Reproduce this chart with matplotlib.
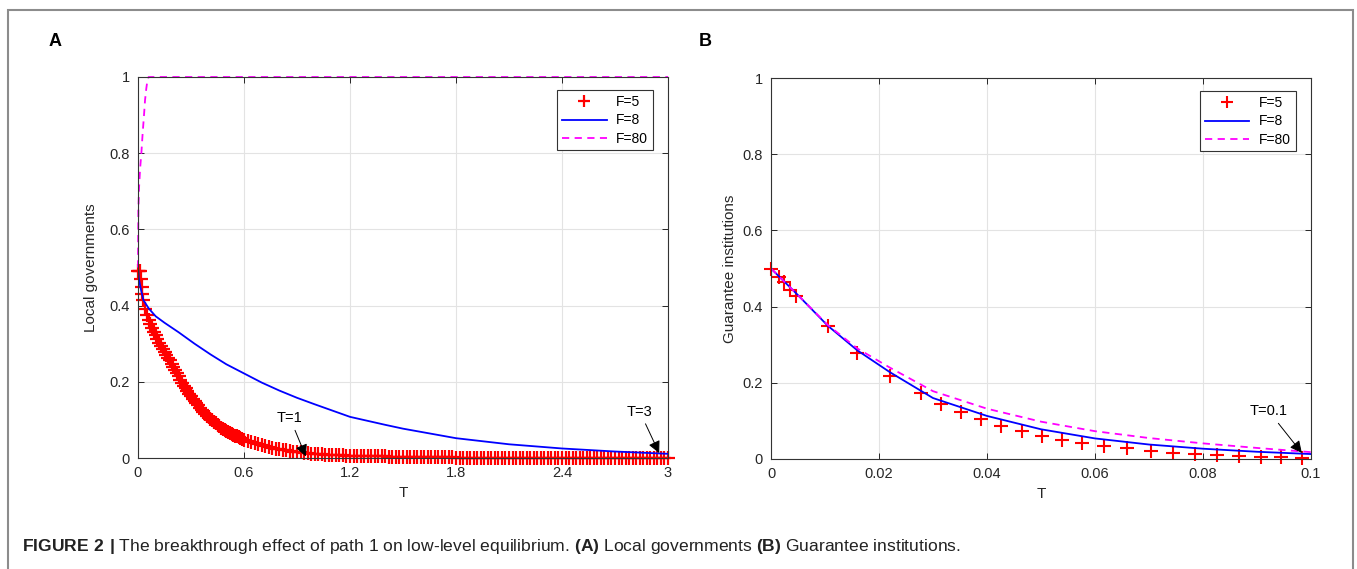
import numpy as np
import matplotlib
matplotlib.use("Agg")
import matplotlib.pyplot as plt
from matplotlib.patches import Rectangle

plt.rcParams['font.family'] = ['Liberation Sans', 'DejaVu Sans']
plt.rcParams['mathtext.fontset'] = 'custom'
plt.rcParams['mathtext.rm'] = 'Liberation Sans'
plt.rcParams['mathtext.bf'] = 'Liberation Sans:bold'

# ---- panel A : local governments ----
# sample times of the F=5 markers: fine steps early on, coarser later
t_a_red = np.round(np.r_[[0, 0.005, 0.01, 0.015, 0.02, 0.025],
                         np.arange(0.03, 0.595, 0.01), np.arange(0.6, 3.001, 0.02)], 3)
y_a_red = [0.49, 0.49, 0.49, 0.47, 0.45, 0.43,
           0.415, 0.39, 0.375, 0.362, 0.351, 0.34, 0.331,
           0.322, 0.312, 0.303, 0.294, 0.286, 0.278, 0.27, 0.263, 0.256, 0.247,
           0.238, 0.23, 0.222, 0.214, 0.206, 0.198, 0.19, 0.183, 0.176, 0.169,
           0.163, 0.156, 0.15, 0.144, 0.138, 0.132, 0.126, 0.121, 0.116, 0.111,
           0.107, 0.103, 0.099, 0.095, 0.091, 0.087, 0.084, 0.080, 0.077, 0.074,
           0.071, 0.068, 0.066, 0.063, 0.061, 0.059, 0.057, 0.054, 0.052, 0.050,
           # 0.60 .. 1.00 step 0.02
           0.048, 0.045, 0.042, 0.039, 0.036, 0.034, 0.031, 0.029, 0.026, 0.024,
           0.023, 0.021, 0.020, 0.019, 0.017, 0.016, 0.015, 0.013, 0.012, 0.011,
           0.011,
           # 1.02 .. 3.00 step 0.02
           0.010, 0.010, 0.009, 0.009, 0.008, 0.008, 0.007, 0.007, 0.006, 0.006,
           0.005, 0.005, 0.005, 0.005, 0.005, 0.004, 0.004, 0.004, 0.004, 0.004,
           0.003, 0.003, 0.003, 0.003, 0.003, 0.003, 0.003, 0.003, 0.002, 0.002,
           0.002, 0.002, 0.002, 0.002, 0.002, 0.002, 0.002, 0.002, 0.002, 0.001,
           0.001, 0.001, 0.001, 0.001, 0.001, 0.001, 0.001, 0.001, 0.001, 0.001,
           0.001, 0.001, 0.001, 0.001, 0.001, 0.0, 0.0, 0.0, 0.0, 0.0,
           0.0, 0.0, 0.0, 0.0, 0.0, 0.0, 0.0, 0.0, 0.0, 0.0,
           0.0, 0.0, 0.0, 0.0, 0.0, 0.0, 0.0, 0.0, 0.0, 0.0,
           0.0, 0.0, 0.0, 0.0, 0.0, 0.0, 0.0, 0.0, 0.0, 0.0,
           0.0, 0.0, 0.0, 0.0, 0.0, 0.0, 0.0, 0.0, 0.0, 0.0]

t_a_blue = [0, 0.005, 0.013, 0.03, 0.06, 0.1, 0.15, 0.23, 0.32, 0.41, 0.5,
            0.6, 0.7, 0.8, 0.9, 1.0, 1.2, 1.4, 1.5, 1.8, 2.1, 2.4, 2.7, 3.0]
y_a_blue = [0.50, 0.47, 0.45, 0.415, 0.393, 0.372, 0.355, 0.33, 0.30, 0.272, 0.246,
            0.222, 0.198, 0.177, 0.158, 0.141, 0.108, 0.087, 0.077, 0.052, 0.036,
            0.025, 0.017, 0.011]

t_a_mag = [0, 0.001, 0.002, 0.006, 0.012, 0.019, 0.026, 0.034, 0.04, 0.047, 0.053, 0.06, 3.0]
y_a_mag = [0.5, 0.58, 0.65, 0.71, 0.76, 0.8, 0.85, 0.9, 0.94, 0.97, 0.99, 1.0, 1.0]

# ---- panel B : guarantee institutions ----
t_b_red = [0.0, 0.0014, 0.0024, 0.0035, 0.0047, 0.0105, 0.016, 0.022, 0.0277,
           0.0314, 0.0352, 0.0388, 0.0426, 0.0464, 0.0502, 0.0538, 0.0575,
           0.0617, 0.0659, 0.0703, 0.0744, 0.0786, 0.0826, 0.0867, 0.0907,
           0.0945, 0.0983]
y_b_red = [0.498, 0.478, 0.465, 0.444, 0.428, 0.348, 0.279, 0.219, 0.173,
           0.145, 0.124, 0.106, 0.087, 0.074, 0.061, 0.051, 0.042,
           0.035, 0.029, 0.022, 0.017, 0.014, 0.010, 0.008, 0.006,
           0.004, 0.003]

t_b = [0, 0.005, 0.0105, 0.016, 0.022, 0.03, 0.04, 0.05, 0.06, 0.07, 0.08, 0.09, 0.1]
y_b_blue = [0.5, 0.43, 0.35, 0.285, 0.228, 0.16, 0.113, 0.078, 0.054, 0.038, 0.027, 0.019, 0.013]
y_b_mag = [0.5, 0.43, 0.352, 0.29, 0.24, 0.178, 0.132, 0.098, 0.073, 0.055, 0.041, 0.029, 0.018]

labels = ['F=5', 'F=8', 'F=80']

W, H = 1357, 569
fig = plt.figure(figsize=(W / 100, H / 100), dpi=100)
axA = fig.add_axes([138 / W, 1 - 458 / H, 530 / W, 381 / H])
axB = fig.add_axes([771 / W, 1 - 459 / H, 540 / W, 381 / H])

txt = '#262626'


def style(ax, xlim, xticks, xticklabels):
    ax.set_xlim(*xlim)
    ax.set_ylim(0, 1)
    ax.set_xticks(xticks)
    ax.set_xticklabels(xticklabels)
    ax.set_yticks([0, 0.2, 0.4, 0.6, 0.8, 1])
    ax.set_yticklabels(['0', '0.2', '0.4', '0.6', '0.8', '1'])
    ax.grid(True, color='#e3e3e3', lw=0.8)
    ax.set_axisbelow(True)
    ax.tick_params(direction='in', length=4, width=0.7, top=True, right=True,
                   labelsize=10.5, colors=txt, pad=6)
    for s in ax.spines.values():
        s.set_color('#333333')
        s.set_linewidth(0.8)
    ax.set_xlabel('T', fontsize=11, color=txt, labelpad=4)


style(axA, (0, 3), [0, 0.6, 1.2, 1.8, 2.4, 3], ['0', '0.6', '1.2', '1.8', '2.4', '3'])
style(axB, (0, 0.1), [0, 0.02, 0.04, 0.06, 0.08, 0.1], ['0', '0.02', '0.04', '0.06', '0.08', '0.1'])
axA.set_ylabel('Local governments', fontsize=11, color=txt, labelpad=8)
axB.set_ylabel('Guarantee institutions', fontsize=11, color=txt, labelpad=4)

axA.plot(t_a_red, y_a_red, '+', color='#ff0000', ms=10, mew=1.6, clip_on=False, label=labels[0])
axA.plot(t_a_blue, y_a_blue, '-', color='#0000ff', lw=1.3, label=labels[1])
axA.plot(t_a_mag, y_a_mag, '--', color='#ff00ff', lw=1.3, dashes=(4, 3), clip_on=False, label=labels[2])

axB.plot(t_b_red, y_b_red, '+', color='#ff0000', ms=10, mew=1.5, clip_on=False, label=labels[0])
axB.plot(t_b, y_b_blue, '-', color='#0000ff', lw=1.3, label=labels[1])
axB.plot(t_b, y_b_mag, '--', color='#ff00ff', lw=1.3, dashes=(4, 3), label=labels[2])

for ax in (axA, axB):
    leg = ax.legend(loc='upper right', bbox_to_anchor=(0.972, 0.965), fontsize=10,
                    fancybox=False, framealpha=1, edgecolor='#333333',
                    handlelength=3.2, borderpad=0.35, labelspacing=0.3,
                    handletextpad=0.7, borderaxespad=0)
    leg.get_frame().set_linewidth(0.8)
    leg.legend_handles[0].set_markersize(9)

arrow = dict(arrowstyle='-|>', color='k', lw=0.7, mutation_scale=18, shrinkA=2, shrinkB=0)
axA.annotate('T=1', xy=(0.95, 0.004), xytext=(0.86, 0.105), fontsize=10.5,
             ha='center', va='center', arrowprops=arrow)
axA.annotate('T=3', xy=(2.95, 0.013), xytext=(2.84, 0.122), fontsize=10.5,
             ha='center', va='center', arrowprops=arrow)
axB.annotate('T=0.1', xy=(0.0983, 0.016), xytext=(0.0922, 0.125), fontsize=10.5,
             ha='center', va='center', arrowprops=arrow)

fig.text(55 / W, 1 - 42 / H, 'A', fontsize=13, fontweight='bold', ha='center', va='center')
fig.text(705 / W, 1 - 42 / H, 'B', fontsize=13, fontweight='bold', ha='center', va='center')

caption = (r"$\mathbf{FIGURE\ 2\ |}$ The breakthrough effect of path 1 on low-level equilibrium. "
           r"$\mathbf{(A)}$ Local governments $\mathbf{(B)}$ Guarantee institutions.")
fig.text(22 / W, 1 - 546 / H, caption, fontsize=12.6, family='Liberation Sans',
         ha='left', va='center', color='#222222')

fig.add_artist(Rectangle((8 / W, -0.1), 1345 / W, 1.1 - 10 / H, transform=fig.transFigure,
                         fill=False, edgecolor='#8c8c8c', lw=1.5))

fig.savefig('out.png', dpi=100)
